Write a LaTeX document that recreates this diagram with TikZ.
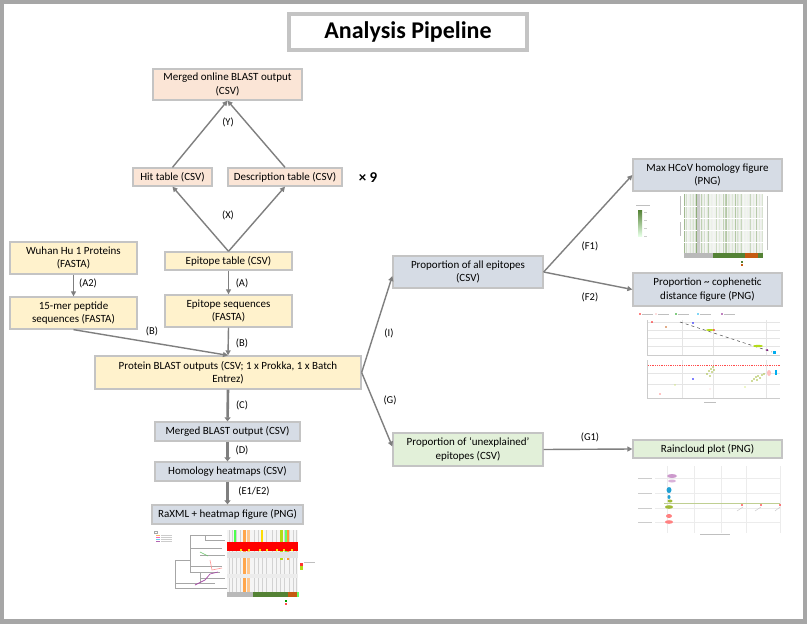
\documentclass[tikz,border=0pt]{standalone}
\usepackage{fontspec}
\setmainfont{Carlito}
\usetikzlibrary{arrows.meta,calc}
\definecolor{framec}{HTML}{A6A6A6}
\definecolor{bordc}{HTML}{C4C4C4}
\definecolor{arrc}{HTML}{7F7F7F}
\definecolor{peach}{HTML}{FBE5D6}
\definecolor{yel}{HTML}{FFF2CC}
\definecolor{blu}{HTML}{D6DCE5}
\definecolor{grn}{HTML}{E2F0D9}
\definecolor{dgreen}{HTML}{548235}
\definecolor{brn}{HTML}{C55A11}
\tikzset{
  pbox/.style={draw=bordc, line width=1.3pt, inner sep=1pt, align=center,
    font=\fontsize{11}{13.5}\selectfont},
  arr/.style={draw=arrc, line width=1.4pt, -{Triangle[length=5pt,width=5pt]}},
  tarr/.style={draw=arrc, line width=2.6pt, -{Triangle[length=4pt,width=6pt]}},
  lab/.style={font=\fontsize{10.5}{12}\selectfont, inner sep=0pt},
}
\begin{document}
\begin{tikzpicture}[x=1pt,y=-1pt]
\useasboundingbox (0,0) rectangle (807,624);
\fill[white] (0,0) rectangle (807,624);
\draw[framec, line width=4.4pt] (2.2,2.2) rectangle (804.8,621.6);

% title
\node[draw=bordc, line width=3.5pt, fill=white, minimum width=238pt, minimum height=36pt,
  font=\fontsize{24}{28}\selectfont\bfseries, inner sep=0pt] (title) at (408,32) {Analysis Pipeline};

% boxes
\node[pbox, fill=peach, minimum width=149pt, minimum height=31pt] (mob) at (227.5,84.5) {Merged online BLAST output\\(CSV)};
\node[pbox, fill=peach, minimum width=79pt, minimum height=18pt] (hit) at (172.5,177) {Hit table (CSV)};
\node[pbox, fill=peach, minimum width=114pt, minimum height=18pt] (desc) at (285,177) {Description table (CSV)};
\node[font=\fontsize{15}{17}\selectfont\bfseries, inner sep=0pt] (x9) at (368,177.5) {× 9};
\node[pbox, fill=yel, minimum width=127pt, minimum height=18pt] (ept) at (228.5,261) {Epitope table (CSV)};
\node[pbox, fill=yel, minimum width=127pt, minimum height=32pt] (wuh) at (73.5,258) {Wuhan Hu 1 Proteins\\(FASTA)};
\node[pbox, fill=yel, minimum width=127pt, minimum height=32pt] (pep) at (73.5,313) {15-mer peptide\\sequences (FASTA)};
\node[pbox, fill=yel, minimum width=127pt, minimum height=32pt] (eps) at (228.5,311) {Epitope sequences\\(FASTA)};
\node[pbox, fill=yel, minimum width=266pt, minimum height=33pt] (pbo) at (228,372.5) {Protein BLAST outputs (CSV; 1 x Prokka, 1 x Batch\\Entrez)};
\node[pbox, fill=blu, minimum width=145pt, minimum height=19pt] (mbo) at (227.5,431.5) {Merged BLAST output (CSV)};
\node[pbox, fill=blu, minimum width=145pt, minimum height=19pt] (hh) at (227.5,471.5) {Homology heatmaps (CSV)};
\node[pbox, fill=blu, minimum width=151pt, minimum height=19pt] (rax) at (227.5,514.5) {RaXML + heatmap figure (PNG)};
\node[pbox, fill=blu, minimum width=150pt, minimum height=32pt] (pae) at (468,272) {Proportion of all epitopes\\(CSV)};
\node[pbox, fill=grn, minimum width=150pt, minimum height=33pt] (pue) at (468,449.5) {Proportion of ‘unexplained’\\epitopes (CSV)};
\node[pbox, fill=blu, minimum width=149pt, minimum height=32pt] (mhc) at (707.5,175) {Max HCoV homology figure\\(PNG)};
\node[pbox, fill=blu, minimum width=149pt, minimum height=33pt] (pcd) at (707.5,289.5) {Proportion \textasciitilde{} cophenetic\\distance figure (PNG)};
\node[pbox, fill=grn, minimum width=149pt, minimum height=18pt] (rcp) at (707.5,449) {Raincloud plot (PNG)};

% connectors
\draw[arr] (hit.north) -- (mob.south);
\draw[arr] (desc.north) -- (mob.south);
\draw[arr] (ept.north) -- (hit.south);
\draw[arr] (ept.north) -- (desc.south);
\draw[arr] (ept.south) -- (eps.north);
\draw[arr] (wuh.south) -- (pep.north);
\draw[arr] (pep.south) -- (pbo.north);
\draw[arr] (eps.south) -- (pbo.north);
\draw[tarr] (pbo.south) -- (mbo.north);
\draw[tarr] (mbo.south) -- (hh.north);
\draw[tarr] (hh.south) -- (rax.north);
\draw[arr] (pbo.east) -- ($(pae.west)+(0,4)$);
\draw[arr] (pbo.east) -- ($(pue.west)+(0,-3)$);
\draw[arr] (pae.east) -- (mhc.west);
\draw[arr] (pae.east) -- (pcd.west);
\draw[arr] (pue.east) -- (rcp.west);

% labels
\node[lab] (lY) at (228,122) {(Y)};
\node[lab] (lX) at (228,215) {(X)};
\node[lab] (lA2) at (88,283) {(A2)};
\node[lab] (lA) at (242,283) {(A)};
\node[lab] (lB1) at (152,331) {(B)};
\node[lab] (lB2) at (242,343) {(B)};
\node[lab] (lC) at (242,405) {(C)};
\node[lab] (lD) at (242,450) {(D)};
\node[lab] (lE) at (254,491) {(E1/E2)};
\node[lab] (lI) at (389,333) {(I)};
\node[lab] (lG) at (390,400) {(G)};
\node[lab] (lF1) at (590,246) {(F1)};
\node[lab] (lF2) at (590,297) {(F2)};
\node[lab] (lG1) at (590,437) {(G1)};

% ---------- thumbnail: RaXML + heatmap ----------
\begin{scope}[line width=0.4pt]
  \draw[gray!70] (154,531) rectangle (157,533);
  \foreach \yy/\cc in {535/orange,537/magenta,539/cyan,541/violet}
    {\draw[\cc!60, line width=0.6pt] (156,\yy) -- (160,\yy); \draw[gray!40, line width=0.5pt] (161,\yy) -- (172,\yy);}
  \draw[gray!70] (175,588) -- (175,560) (175,560) -- (190,560) (190,535) -- (190,572)
    (190,535) -- (222,535) (205,540) -- (225,540) (190,548) -- (222,548) (200,555) -- (225,555)
    (190,566) -- (222,566) (190,572) -- (220,572) (175,583) -- (215,583) (175,588) -- (228,588)
    (200,578) -- (225,578) (200,572) -- (200,583) (205,535) -- (205,540);
  \draw[violet!70, line width=0.7pt] (195,585) -- (205,580) -- (210,574) -- (218,572);
  \draw[pink!80!red, line width=0.6pt] (210,560) -- (212,570) -- (222,568);
  \draw[green!60!black!60, line width=0.6pt] (200,552) -- (208,556);
  \fill[gray!8] (227,530) rectangle (298,592);
  \foreach \xx in {229,232,236,240,254,258,262,266,272,276,280,284,289,293,296}
    \draw[gray!35, line width=0.3pt] (\xx,530) -- (\xx,592);
  \fill[orange!70] (243,530) rectangle (246,592);
  \fill[orange!45] (247,530) rectangle (250,592);
  \fill[yellow!80!orange] (261,530) rectangle (262.5,548);
  \fill[green!70] (234,530) rectangle (235.5,545);
  \fill[yellow!70!green] (280,530) rectangle (283,560);
  \fill[green!60] (285,530) rectangle (286.5,555);
  \fill[orange!80] (287,530) rectangle (288.5,560);
  \fill[gray!22] (227,552) rectangle (298,558);
  \fill[gray!15] (227,574) rectangle (298,578);
  \fill[red] (227,542) rectangle (298,551);
  \foreach \xx in {240,248,259,266,276,283,291}
    \fill[yellow!80!orange] (\xx,549) rectangle (\xx+1.5,551);
  \fill[gray!55] (227,592) rectangle (253,597);
  \fill[dgreen] (253,592) rectangle (288,597);
  \fill[brn] (288,592) rectangle (297,597);
  \fill[green!60] (297,592) rectangle (299,597);
  \fill[red!80] (300,563) rectangle (303,566);
  \fill[yellow!70!green] (300,566) rectangle (303,570);
  \draw[gray!50, line width=0.4pt] (304,562) -- (315,562);
  \fill[green!60!black] (285,600) rectangle (287,602);
  \fill[red!70] (285,603) rectangle (287,605);
\end{scope}

% ---------- thumbnail: Max HCoV homology ----------
\begin{scope}
  \shade[top color=dgreen, bottom color=green!10] (638,210) rectangle (642,236);
  \draw[gray!50, line width=0.4pt] (636,205) -- (650,205);
  \foreach \yy in {212,220,228,236} \draw[gray!40, line width=0.3pt] (644,\yy) -- (647,\yy);
  \fill[gray!12] (684,194) rectangle (763,253);
  \pgfmathsetseed{11}
  \foreach \i in {0,...,52} {
    \pgfmathsetmacro{\xx}{684+\i*1.5}
    \pgfmathsetmacro{\sh}{int(6+80*rnd*rnd)}
    \fill[dgreen!\sh] (\xx,194) rectangle (\xx+1.1,253);
  }
  \foreach \yy in {206,218,230,242} \fill[white] (684,\yy) rectangle (763,\yy+1.2);
  \fill[gray!40] (697,194) rectangle (700,253);
  \fill[gray!55] (684,253) rectangle (713,258);
  \fill[dgreen] (713,253) rectangle (745,258);
  \fill[brn] (745,253) rectangle (758,258);
  \fill[dgreen] (758,253) rectangle (763,258);
  \draw[gray!50, line width=0.3pt] (680,196) -- (680,215) (680,222) -- (680,236);
  \draw[gray!50, line width=0.3pt] (767,196) -- (767,250);
  \fill[dgreen] (741,261) rectangle (743,263);
  \fill[brn] (741,264) rectangle (743,266);
\end{scope}

% ---------- thumbnail: cophenetic ----------
\begin{scope}
  \foreach \xx/\cc in {640/red,656/pink,676/green!60!black,698/cyan,722/violet}
    {\fill[\cc] (\xx,314) circle (0.8pt); \draw[gray!50, line width=0.3pt] (\xx+2,314) -- (\xx+13,314);}
  \draw[gray!40, line width=0.4pt] (647,320) -- (647,355) -- (780,355);
  \foreach \yy in {322,330,338,346} \draw[gray!20, line width=0.3pt] (648,\yy) -- (780,\yy);
  \foreach \xx in {682,713,766} \draw[gray!20, line width=0.3pt] (\xx,320) -- (\xx,355);
  \draw[black!70, dashed, line width=0.5pt] (680,322) -- (772,352);
  \fill[red] (652,322) circle (0.8pt);
  \fill[brn] (666,327) circle (0.8pt);
  \fill[blue] (693,323) circle (0.8pt);
  \fill[yellow!70!green] (710,330) ellipse (4pt and 1pt);
  \fill[red] (714,330) circle (0.8pt);
  \fill[yellow!70!green] (758,346) ellipse (5pt and 1.2pt);
  \fill[violet] (767,350) circle (1pt);
  \fill[cyan] (773,351) rectangle (776,354);
  \draw[gray!40, line width=0.4pt] (647,360) -- (647,398) -- (780,398);
  \foreach \yy in {373,384} \draw[gray!20, line width=0.3pt] (648,\yy) -- (780,\yy);
  \foreach \xx in {682,713,766} \draw[gray!20, line width=0.3pt] (\xx,360) -- (\xx,398);
  \draw[red!70, densely dotted, line width=0.8pt] (648,365) -- (780,365);
  \fill[blue] (693,379) circle (0.8pt);
  \foreach \px/\py in {707/374,709/371,711/369,712/372,714/370,710/376,713/367}
    \fill[yellow!70!green!80!black] (\px,\py) circle (0.9pt);
  \foreach \px/\py in {752/381,754/379,756/377,758/376,760/378,762/375,757/380,764/374}
    \fill[yellow!70!green!80!black] (\px,\py) circle (0.9pt);
  \fill[pink] (769,373) ellipse (2pt and 3pt);
  \fill[cyan] (775,370) rectangle (777,375);
  \fill[yellow!70!green] (675,385) circle (0.6pt);
  \fill[yellow!70!green] (745,387) circle (0.6pt);
  \fill[red] (660,394) circle (0.7pt);
  \fill[pink] (710,389) circle (0.7pt);
  \draw[gray!50, line width=0.3pt] (704,402) -- (716,402);
\end{scope}

% ---------- thumbnail: raincloud ----------
\begin{scope}
  \foreach \xx in {667,694,721,746,780} \draw[gray!15, line width=0.3pt] (\xx,466) -- (\xx,533);
  \foreach \yy in {478,493,508,522} \draw[gray!15, line width=0.3pt] (655,\yy) -- (780,\yy);
  \foreach \yy in {478,493,508,522} \draw[gray!40, line width=0.3pt] (638,\yy) -- (652,\yy);
  \fill[violet!40] (672,476) ellipse (5pt and 2pt);
  \fill[violet!30] (672,481) ellipse (4pt and 1.5pt);
  \fill[cyan!70!teal] (669,490) ellipse (2.5pt and 3pt);
  \fill[cyan!70!teal] (669,497) ellipse (1.5pt and 2pt);
  \draw[yellow!60!green!70!black!50, line width=0.6pt] (664,503) -- (780,503);
  \fill[yellow!70!green!80!black] (670,501) ellipse (2.5pt and 1.5pt);
  \fill[yellow!70!green!80!black] (669,507) ellipse (4pt and 1.8pt);
  \fill[red!50] (669,516) ellipse (3pt and 2pt);
  \fill[red!50] (669,522) ellipse (4pt and 1.8pt);
  \foreach \xx in {742,761,780} \fill[red] (\xx,505) circle (0.8pt);
  \draw[gray!50, line width=0.3pt] (737,511) -- (743,507) (755,511) -- (761,507) (775,511) -- (780,507);
  \draw[gray!50, line width=0.3pt] (700,534) -- (730,534);
\end{scope}
\end{tikzpicture}
\end{document}
